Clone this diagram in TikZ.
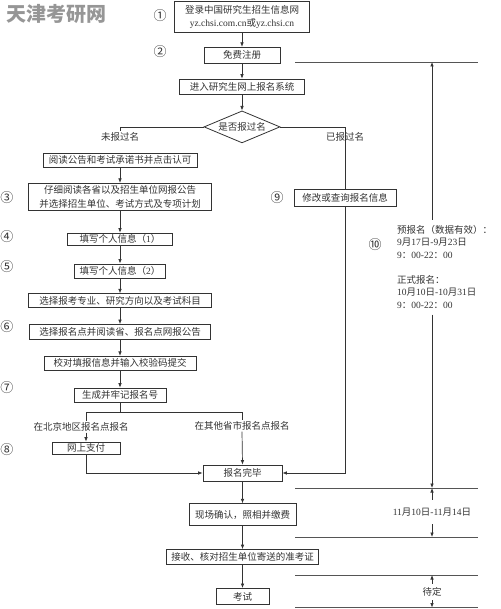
\documentclass[tikz,border=0pt]{standalone}
\usepackage{fontspec}
\setmainfont{Noto Sans CJK SC}
\newfontfamily\latnfont{Liberation Serif}
\newcommand\western[1]{{\latnfont #1}}
\usepackage{tikz}
\usetikzlibrary{shapes.geometric, arrows.meta, positioning, calc}
\definecolor{inkgray}{RGB}{51,51,51}
\definecolor{rulegray}{RGB}{85,85,85}
\definecolor{markgray}{RGB}{150,150,150}

\begin{document}
\begin{tikzpicture}[
    x=1pt, y=-1pt,
    every node/.style={font=\fontsize{9.5}{14}\selectfont, text=inkgray},
    stage/.style={rectangle, draw=inkgray, line width=0.8pt, fill=white, minimum width=#1, minimum height=14pt, inner xsep=2pt, inner ysep=1pt, align=center},
    stage/.default=60pt,
    ask/.style={diamond, draw=inkgray, line width=0.8pt, fill=white, aspect=2.4, inner sep=0pt, minimum width=76pt, minimum height=32pt},
    arrow/.style={-{Latex[length=4.5pt, width=3.6pt]}, line width=0.7pt, inkgray},
    link/.style={line width=0.7pt, inkgray},
    branch/.style={inner sep=1pt},
    stepno/.style={font=\fontsize{13}{13}\selectfont},
    rule/.style={line width=0.9pt, rulegray},
    span/.style={inner sep=0pt, align=left, font=\fontsize{9.5}{12.5}\selectfont}
]
\useasboundingbox (0,0) rectangle (500,609);

% watermark
\node[font=\fontsize{20}{20}\selectfont\bfseries, text=markgray] (mark) at (56,14) {天津考研网};

% top chain
\node[stage=135pt, minimum height=31pt] (login) at (242,17) {登录中国研究生招生信息网\\[-1pt]\western{yz.chsi.com.cn}或\western{yz.chsi.cn}};
\node[stage=76pt, minimum height=16pt, below=14pt of login] (reg) {免费注册};
\node[stage=125pt, minimum height=15pt, below=15pt of reg] (enter) {进入研究生网上报名系统};
\node[ask, below=16pt of enter] (before) {是否报过名};

% left column
\node[branch] (lnew) at (120,137) {未报过名};
\node[stage=154pt] (read) at (120,160) {阅读公告和考试承诺书并点击认可};
\node[stage=183pt, minimum height=27pt, below=15.5pt of read] (choose) {仔细阅读各省以及招生单位网报公告\\并选择招生单位、考试方式及专项计划};
\node[stage=105pt, minimum height=12pt, below=22pt of choose] (info1) {填写个人信息（\western{1}）};
\node[stage=91pt, below=18pt of info1] (info2) {填写个人信息（\western{2}）};
\node[stage=183pt, below=15pt of info2] (major) {选择报考专业、研究方向以及考试科目};
\node[stage=181pt, minimum height=15pt, below=16pt of major] (site) {选择报名点并阅读省、报名点网报公告};
\node[stage=152pt, below=16pt of site] (check) {校对填报信息并输入校验码提交};
\node[stage=92pt, below=17pt of check] (number) {生成并牢记报名号};

\coordinate (fork) at (120,412);
\coordinate (forkL) at (86,412);
\coordinate (forkR) at (242,412);
\node[branch] (lbj) at (81,427) {在北京地区报名点报名};
\node[branch] (loth) at (242,426) {在其他省市报名点报名};
\node[stage=68pt, minimum height=12pt] (pay) at (86,448) {网上支付};

% right branch
\node[branch] (lold) at (345,137) {已报过名};
\node[stage=102pt, minimum height=17pt] (modify) at (345,197.5) {修改或查询报名信息};

% bottom chain
\node[stage=79pt, minimum height=16pt] (done) at (242.5,473) {报名完毕};
\node[stage=107pt, minimum height=22pt, below=22pt of done] (confirm) {现场确认，照相并缴费};
\node[stage=152pt, minimum height=15pt, below=23pt of confirm] (ticket) {接收、核对招生单位寄送的准考证};
\node[stage=53pt, minimum height=16pt, below=23pt of ticket] (exam) {考试};

% step numbers
\foreach \t/\x/\y [count=\i] in {①/160/16, ②/160/52, ③/7/198, ④/7/237, ⑤/7/267, ⑥/7/327, ⑦/7/388, ⑧/7/450, ⑨/277/198, ⑩/375/245}
    \node[stepno] (no\i) at (\x,\y) {\t};

% connectors
\draw[arrow] (login) -- (reg);
\draw[arrow] (reg) -- (enter);
\draw[arrow] (enter) -- (before);
\draw[link] (before.west) -| (lnew.north);
\draw[link] (before.east) -| (modify.north);
\draw[arrow] (read) -- (choose);
\draw[arrow] (choose) -- (info1);
\draw[arrow] (info1) -- (info2);
\draw[arrow] (info2) -- (major);
\draw[arrow] (major) -- (site);
\draw[arrow] (site) -- (check);
\draw[arrow] (check) -- (number);
\draw[link] (number) -- (fork);
\draw[link] (forkL) -- (forkR);
\draw[link] (forkL) -- (lbj.north -| forkL);
\draw[arrow] (lbj.south -| pay) -- (pay.north);
\draw[link] (forkR) -- (loth.north);
\draw[arrow] (loth.south) -- (done.north);
\draw[arrow] (pay.south) |- (done.west);
\draw[arrow] (modify.south) |- (done.east);
\draw[arrow] (done) -- (confirm);
\draw[arrow] (confirm) -- (ticket);
\draw[arrow] (ticket) -- (exam);

% time spans
\foreach \y/\n in {62/a, 488/b, 537/c, 575/d, 607.5/e} {
    \draw[rule] (295,\y) -- (478,\y);
    \coordinate (rule\n) at (432,\y);
}
\node[span, anchor=north west] (early) at (397,225) {预报名（数据有效）：\\\western{9}月\western{17}日\western{-9}月\western{23}日\\\western{9}：\western{00-22}：\western{00}\\[12.5pt]正式报名：\\\western{10}月\western{10}日\western{-10}月\western{31}日\\\western{9}：\western{00-22}：\western{00}};
\node[inner sep=0pt, minimum height=24pt] (onsite) at (432,512) {\western{11}月\western{10}日\western{-11}月\western{14}日};
\node[inner sep=0pt, minimum height=16pt] (later) at (432,592) {待定};

\draw[arrow] ($(early.north -| rulea)+(0,-5)$) -- (rulea);
\draw[arrow] ($(early.south -| ruleb)+(0,6)$) -- (ruleb);
\draw[arrow] (onsite.north) -- (ruleb);
\draw[arrow] (onsite.south) -- (rulec);
\draw[arrow] (later.north) -- (ruled);
\draw[arrow] (later.south) -- (rulee);

\end{tikzpicture}
\end{document}
